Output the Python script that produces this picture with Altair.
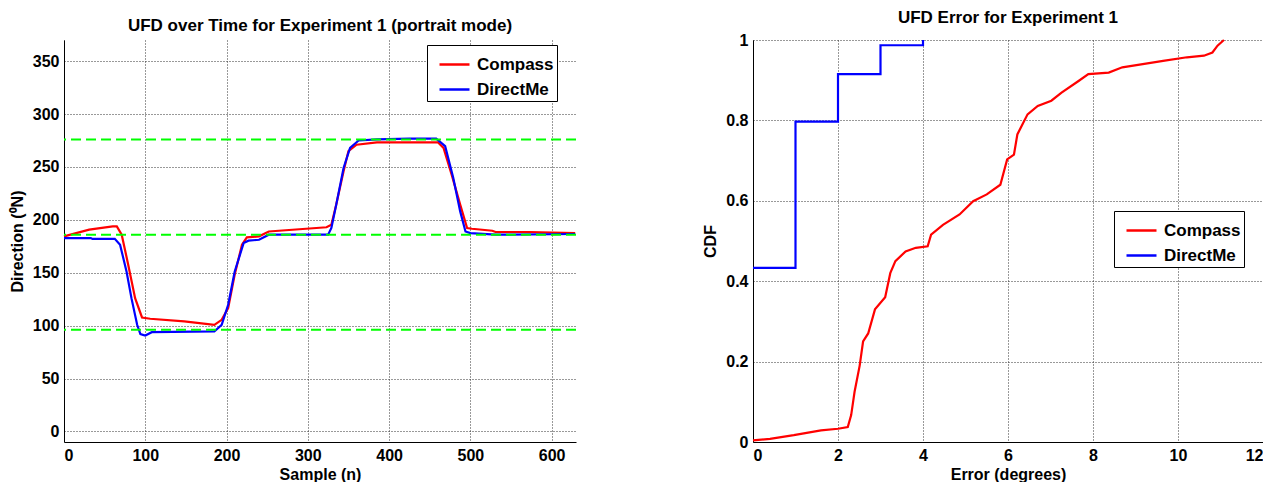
import altair as alt
import pandas as pd

FONT = "Liberation Sans"

# ---------------- Left panel data ----------------
compass_sample = [0, 31, 60, 65, 71, 79, 87.5, 96, 106, 148, 185, 194, 202, 210, 219, 225, 240, 252,
                  323, 329, 335, 344, 350, 360, 385, 460, 467, 477, 487.5, 496, 502, 527, 531, 573, 629]
compass_dir = [184.4, 190.7, 193.8, 193.8, 186, 157.6, 126, 107.7, 106.5, 104, 100.8, 105.5, 116.6, 148,
               176.5, 183.4, 184.4, 189, 193, 195.4, 214.4, 246, 265, 271, 273.3, 273.3, 268, 242.7,
               214.4, 192.3, 191.6, 189.7, 188.5, 188.5, 187.5]

directme_sample = [0, 33, 35, 62.5, 69, 77, 83, 90, 94, 100, 108, 185, 194, 202, 210, 221, 227, 240, 252,
                   325, 329, 335, 344, 352, 362.5, 385, 425, 458, 469, 479, 487.5, 494, 500, 531, 629]
directme_dir = [182.8, 182.8, 182, 182, 176.5, 151, 126, 100.8, 92, 90.7, 93.8, 94.5, 100.8, 119.7, 151,
                178, 180.3, 181.2, 186, 186, 192.3, 214.4, 249, 268, 275, 276, 276.8, 276.8, 269.6,
                239.6, 208, 189, 187.5, 186, 186.6]

reference_dirs = [96, 186, 276]

# ---------------- Right panel data ----------------
compass_err = [0, 0.4, 0.96, 1.6, 2.0, 2.23, 2.31, 2.39, 2.51, 2.59, 2.71, 2.87, 3.11, 3.23, 3.35, 3.59,
               3.83, 4.11, 4.19, 4.47, 4.86, 5.18, 5.5, 5.82, 5.98, 6.14, 6.22, 6.46, 6.70, 7.02, 7.26,
               7.66, 7.89, 8.37, 8.69, 9.17, 9.65, 10.21, 10.61, 10.81, 10.93, 11.08]
compass_cdf = [0.004, 0.008, 0.017, 0.029, 0.033, 0.037, 0.067, 0.125, 0.19, 0.25, 0.27, 0.33, 0.36,
               0.42, 0.45, 0.474, 0.483, 0.487, 0.516, 0.54, 0.566, 0.599, 0.616, 0.64, 0.703, 0.715,
               0.765, 0.815, 0.836, 0.849, 0.869, 0.898, 0.915, 0.919, 0.932, 0.94, 0.948, 0.957,
               0.961, 0.969, 0.986, 1.0]
directme_err = [0, 1, 2, 3, 4]
directme_cdf = [0.433, 0.797, 0.915, 0.987, 1.0]

series = ["Compass", "DirectMe"]
colors = ["#ff0000", "#0000ff"]

left_df = pd.concat([
    pd.DataFrame({"Sample": compass_sample, "Direction": compass_dir, "Series": "Compass"}),
    pd.DataFrame({"Sample": directme_sample, "Direction": directme_dir, "Series": "DirectMe"}),
])
ref_df = pd.DataFrame({"Direction": reference_dirs})
cmp_df = pd.DataFrame({"Error": compass_err, "CDF": compass_cdf, "Series": "Compass"})
dm_df = pd.DataFrame({"Error": directme_err, "CDF": directme_cdf, "Series": "DirectMe"})

color_scale = alt.Scale(domain=series, range=colors)


def legend(x, y, row_pad):
    return alt.Legend(title=None, orient="none", legendX=x, legendY=y, rowPadding=row_pad)


W, H = 512, 402

xl = alt.X("Sample:Q", scale=alt.Scale(domain=[0, 630], nice=False, zero=False),
           axis=alt.Axis(title="Sample (n)", values=[0, 100, 200, 300, 400, 500, 600]))
yl = alt.Y("Direction:Q", scale=alt.Scale(domain=[-10, 370], nice=False, zero=False),
           axis=alt.Axis(title="Direction (⁰N)", values=[0, 50, 100, 150, 200, 250, 300, 350]))

left_lines = alt.Chart(left_df).mark_line(strokeWidth=2.2).encode(
    x=xl, y=yl,
    color=alt.Color("Series:N", scale=color_scale, legend=legend(363, 5, -3)),
)
left_refs = alt.Chart(ref_df).mark_rule(color="#00ff00", strokeDash=[10, 5], strokeWidth=2).encode(
    y=alt.Y("Direction:Q")
)
left = alt.layer(left_lines, left_refs).properties(
    width=W, height=H, title="UFD over Time for Experiment 1 (portrait mode)"
)

xr = alt.X("Error:Q", scale=alt.Scale(domain=[0, 12], nice=False, zero=False),
           axis=alt.Axis(title="Error (degrees)", values=[0, 2, 4, 6, 8, 10, 12]))
yr = alt.Y("CDF:Q", scale=alt.Scale(domain=[0, 1], nice=False),
           axis=alt.Axis(title="CDF", values=[0, 0.2, 0.4, 0.6, 0.8, 1], format="~g"))

right_cmp = alt.Chart(cmp_df).mark_line(strokeWidth=2.2).encode(
    x=xr, y=yr, color=alt.Color("Series:N", scale=color_scale, legend=legend(361, 171, -5))
)
right_dm = alt.Chart(dm_df).mark_line(strokeWidth=2.2, interpolate="step-after").encode(
    x=xr, y=yr, color=alt.Color("Series:N", scale=color_scale, legend=legend(361, 171, -5))
)
right = alt.layer(right_cmp, right_dm).properties(
    width=510, height=H, title="UFD Error for Experiment 1"
)

chart = alt.hconcat(left, right, spacing=122).resolve_scale(color="independent").properties(
    padding={"left": 1, "top": 1, "right": 0, "bottom": 0}
).configure_view(stroke=None).configure_axis(
    grid=True, gridColor="#333333", gridDash=[1, 2], gridWidth=1,
    domainColor="#000000", domainWidth=1, ticks=False,
    labelFont=FONT, labelFontSize=16, labelFontWeight="bold", labelColor="#000000", labelPadding=5,
    titleFont=FONT, titleFontSize=16, titleFontWeight="bold", titleColor="#000000",
).configure_axisY(titlePadding=7).configure_axisX(titlePadding=3).configure_title(
    font=FONT, fontSize=17, fontWeight="bold", color="#000000", offset=5, frame="group", anchor="middle"
).configure_legend(
    fillColor="white", strokeColor="black", strokeWidth=1, padding=3,
    labelFont=FONT, labelFontSize=17, labelFontWeight="bold", labelColor="#000000",
    symbolType="stroke", symbolStrokeWidth=2.5, symbolSize=900, symbolOffset=8, labelOffset=6,
)

chart.save("out.html", embed_options={"renderer": "svg", "actions": False})
